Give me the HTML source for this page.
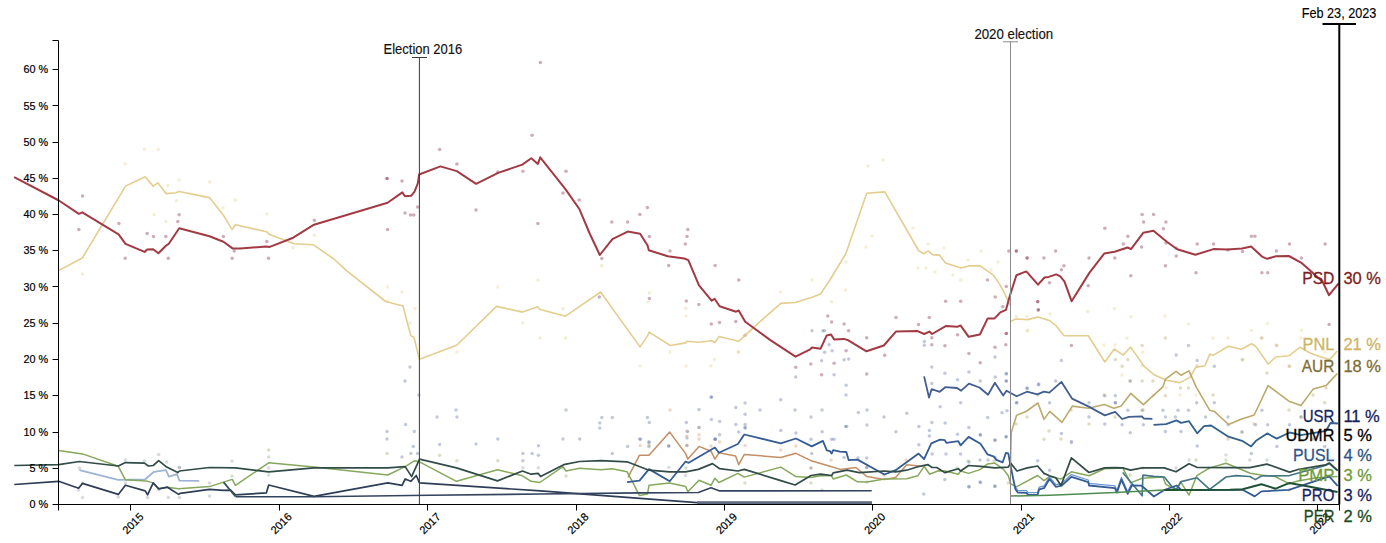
<!DOCTYPE html>
<html lang="en"><head><meta charset="utf-8"><title>Romania polls</title>
<style>html,body{margin:0;padding:0;background:#fff;overflow:hidden}body{width:1386px;height:543px}svg text{white-space:pre}</style>
</head><body>
<svg width="1386" height="543" viewBox="0 0 1386 543" style="display:block">
<rect width="1386" height="543" fill="#fff"/>
<g>
<circle cx="82.6" cy="195.9" r="1.75" fill="#8a3a58" fill-opacity="0.42"/>
<circle cx="78.8" cy="229.5" r="1.75" fill="#8a3a58" fill-opacity="0.42"/>
<circle cx="118.9" cy="223.5" r="1.75" fill="#8a3a58" fill-opacity="0.42"/>
<circle cx="125.2" cy="258.3" r="1.75" fill="#8a3a58" fill-opacity="0.42"/>
<circle cx="147.2" cy="233.5" r="1.75" fill="#8a3a58" fill-opacity="0.42"/>
<circle cx="153.5" cy="236.5" r="1.75" fill="#8a3a58" fill-opacity="0.42"/>
<circle cx="165.8" cy="236.5" r="1.75" fill="#8a3a58" fill-opacity="0.42"/>
<circle cx="168.3" cy="258.3" r="1.75" fill="#8a3a58" fill-opacity="0.42"/>
<circle cx="179.1" cy="214.7" r="1.75" fill="#8a3a58" fill-opacity="0.42"/>
<circle cx="177.8" cy="221.5" r="1.75" fill="#8a3a58" fill-opacity="0.42"/>
<circle cx="223.4" cy="236.5" r="1.75" fill="#8a3a58" fill-opacity="0.42"/>
<circle cx="232.2" cy="258.3" r="1.75" fill="#8a3a58" fill-opacity="0.42"/>
<circle cx="266.8" cy="241.5" r="1.75" fill="#8a3a58" fill-opacity="0.42"/>
<circle cx="268.5" cy="258.3" r="1.75" fill="#8a3a58" fill-opacity="0.42"/>
<circle cx="314.4" cy="220.2" r="1.75" fill="#8a3a58" fill-opacity="0.42"/>
<circle cx="387.1" cy="178.4" r="1.75" fill="#8a3a58" fill-opacity="0.42"/>
<circle cx="387.6" cy="229.5" r="1.75" fill="#8a3a58" fill-opacity="0.42"/>
<circle cx="234.2" cy="251" r="1.75" fill="#8a3a58" fill-opacity="0.42"/>
<circle cx="540.4" cy="62.5" r="1.75" fill="#8a3a58" fill-opacity="0.42"/>
<circle cx="532.1" cy="135.2" r="1.75" fill="#8a3a58" fill-opacity="0.42"/>
<circle cx="439.6" cy="149.5" r="1.75" fill="#8a3a58" fill-opacity="0.42"/>
<circle cx="456.9" cy="164" r="1.75" fill="#8a3a58" fill-opacity="0.42"/>
<circle cx="522.9" cy="171.3" r="1.75" fill="#8a3a58" fill-opacity="0.42"/>
<circle cx="566" cy="171.3" r="1.75" fill="#8a3a58" fill-opacity="0.42"/>
<circle cx="387" cy="178.6" r="1.75" fill="#8a3a58" fill-opacity="0.42"/>
<circle cx="402" cy="181.1" r="1.75" fill="#8a3a58" fill-opacity="0.42"/>
<circle cx="497.8" cy="172" r="1.75" fill="#8a3a58" fill-opacity="0.42"/>
<circle cx="405" cy="213" r="1.75" fill="#8a3a58" fill-opacity="0.42"/>
<circle cx="410.6" cy="215" r="1.75" fill="#8a3a58" fill-opacity="0.42"/>
<circle cx="413.8" cy="215" r="1.75" fill="#8a3a58" fill-opacity="0.42"/>
<circle cx="417.6" cy="207" r="1.75" fill="#8a3a58" fill-opacity="0.42"/>
<circle cx="476" cy="210" r="1.75" fill="#8a3a58" fill-opacity="0.42"/>
<circle cx="537.9" cy="223.4" r="1.75" fill="#8a3a58" fill-opacity="0.42"/>
<circle cx="563" cy="193" r="1.75" fill="#8a3a58" fill-opacity="0.42"/>
<circle cx="579.2" cy="200" r="1.75" fill="#8a3a58" fill-opacity="0.42"/>
<circle cx="601.8" cy="258.4" r="1.75" fill="#8a3a58" fill-opacity="0.42"/>
<circle cx="611.8" cy="221.9" r="1.75" fill="#8a3a58" fill-opacity="0.42"/>
<circle cx="627.6" cy="221.9" r="1.75" fill="#8a3a58" fill-opacity="0.42"/>
<circle cx="639.9" cy="214.6" r="1.75" fill="#8a3a58" fill-opacity="0.42"/>
<circle cx="647.4" cy="207.6" r="1.75" fill="#8a3a58" fill-opacity="0.42"/>
<circle cx="649.4" cy="236.4" r="1.75" fill="#8a3a58" fill-opacity="0.42"/>
<circle cx="687.8" cy="229.4" r="1.75" fill="#8a3a58" fill-opacity="0.42"/>
<circle cx="687" cy="236.4" r="1.75" fill="#8a3a58" fill-opacity="0.42"/>
<circle cx="685.3" cy="243.9" r="1.75" fill="#8a3a58" fill-opacity="0.42"/>
<circle cx="670" cy="250.9" r="1.75" fill="#8a3a58" fill-opacity="0.42"/>
<circle cx="668.7" cy="265.5" r="1.75" fill="#8a3a58" fill-opacity="0.42"/>
<circle cx="715.1" cy="265.5" r="1.75" fill="#8a3a58" fill-opacity="0.42"/>
<circle cx="599.3" cy="297" r="1.75" fill="#8a3a58" fill-opacity="0.42"/>
<circle cx="649.4" cy="298.5" r="1.75" fill="#8a3a58" fill-opacity="0.42"/>
<circle cx="686.3" cy="301" r="1.75" fill="#8a3a58" fill-opacity="0.42"/>
<circle cx="698.8" cy="304.6" r="1.75" fill="#8a3a58" fill-opacity="0.42"/>
<circle cx="738.8" cy="280" r="1.75" fill="#8a3a58" fill-opacity="0.42"/>
<circle cx="711.3" cy="323.9" r="1.75" fill="#8a3a58" fill-opacity="0.42"/>
<circle cx="719.5" cy="322.6" r="1.75" fill="#8a3a58" fill-opacity="0.42"/>
<circle cx="735.8" cy="321.4" r="1.75" fill="#8a3a58" fill-opacity="0.42"/>
<circle cx="745.1" cy="335.2" r="1.75" fill="#8a3a58" fill-opacity="0.42"/>
<circle cx="795.7" cy="367.2" r="1.75" fill="#8a3a58" fill-opacity="0.42"/>
<circle cx="810.8" cy="364" r="1.75" fill="#8a3a58" fill-opacity="0.42"/>
<circle cx="821.6" cy="374.8" r="1.75" fill="#8a3a58" fill-opacity="0.42"/>
<circle cx="834.1" cy="363.2" r="1.75" fill="#8a3a58" fill-opacity="0.42"/>
<circle cx="827.8" cy="315.9" r="1.75" fill="#8a3a58" fill-opacity="0.42"/>
<circle cx="831.6" cy="322.1" r="1.75" fill="#8a3a58" fill-opacity="0.42"/>
<circle cx="844.1" cy="323.9" r="1.75" fill="#8a3a58" fill-opacity="0.42"/>
<circle cx="848.6" cy="330.7" r="1.75" fill="#8a3a58" fill-opacity="0.42"/>
<circle cx="866.7" cy="337.7" r="1.75" fill="#8a3a58" fill-opacity="0.42"/>
<circle cx="846.1" cy="350.7" r="1.75" fill="#8a3a58" fill-opacity="0.42"/>
<circle cx="866.7" cy="374" r="1.75" fill="#8a3a58" fill-opacity="0.42"/>
<circle cx="884.7" cy="355.2" r="1.75" fill="#8a3a58" fill-opacity="0.42"/>
<circle cx="896" cy="317.6" r="1.75" fill="#8a3a58" fill-opacity="0.42"/>
<circle cx="918.5" cy="324.6" r="1.75" fill="#8a3a58" fill-opacity="0.42"/>
<circle cx="929.3" cy="317.6" r="1.75" fill="#8a3a58" fill-opacity="0.42"/>
<circle cx="931.8" cy="337.7" r="1.75" fill="#8a3a58" fill-opacity="0.42"/>
<circle cx="931.8" cy="344.7" r="1.75" fill="#8a3a58" fill-opacity="0.42"/>
<circle cx="944.9" cy="345.7" r="1.75" fill="#8a3a58" fill-opacity="0.42"/>
<circle cx="945.6" cy="301.3" r="1.75" fill="#8a3a58" fill-opacity="0.42"/>
<circle cx="960.7" cy="301.3" r="1.75" fill="#8a3a58" fill-opacity="0.42"/>
<circle cx="957.6" cy="334.7" r="1.75" fill="#8a3a58" fill-opacity="0.42"/>
<circle cx="968.9" cy="353.5" r="1.75" fill="#8a3a58" fill-opacity="0.42"/>
<circle cx="980.2" cy="362.7" r="1.75" fill="#8a3a58" fill-opacity="0.42"/>
<circle cx="987.5" cy="280" r="1.75" fill="#8a3a58" fill-opacity="0.42"/>
<circle cx="995.2" cy="297.1" r="1.75" fill="#8a3a58" fill-opacity="0.42"/>
<circle cx="1002.8" cy="306.8" r="1.75" fill="#8a3a58" fill-opacity="0.42"/>
<circle cx="1006.3" cy="333.4" r="1.75" fill="#8a3a58" fill-opacity="0.42"/>
<circle cx="1005.8" cy="344.7" r="1.75" fill="#8a3a58" fill-opacity="0.42"/>
<circle cx="995" cy="347.2" r="1.75" fill="#8a3a58" fill-opacity="0.42"/>
<circle cx="1037.8" cy="301.8" r="1.75" fill="#8a3a58" fill-opacity="0.42"/>
<circle cx="1038.3" cy="310.1" r="1.75" fill="#8a3a58" fill-opacity="0.42"/>
<circle cx="1008.8" cy="250.9" r="1.75" fill="#8a3a58" fill-opacity="0.42"/>
<circle cx="1016.3" cy="250.9" r="1.75" fill="#8a3a58" fill-opacity="0.42"/>
<circle cx="1016.3" cy="250.9" r="1.75" fill="#8a3a58" fill-opacity="0.42"/>
<circle cx="1027.1" cy="258.1" r="1.75" fill="#8a3a58" fill-opacity="0.42"/>
<circle cx="1027.1" cy="258.1" r="1.75" fill="#8a3a58" fill-opacity="0.42"/>
<circle cx="1043.9" cy="258.1" r="1.75" fill="#8a3a58" fill-opacity="0.42"/>
<circle cx="1055.6" cy="250.9" r="1.75" fill="#8a3a58" fill-opacity="0.42"/>
<circle cx="1063.9" cy="265.7" r="1.75" fill="#8a3a58" fill-opacity="0.42"/>
<circle cx="1061.4" cy="269.7" r="1.75" fill="#8a3a58" fill-opacity="0.42"/>
<circle cx="1049.4" cy="282.7" r="1.75" fill="#8a3a58" fill-opacity="0.42"/>
<circle cx="1037.6" cy="301.5" r="1.75" fill="#8a3a58" fill-opacity="0.42"/>
<circle cx="1038.3" cy="309.8" r="1.75" fill="#8a3a58" fill-opacity="0.42"/>
<circle cx="1089" cy="258.1" r="1.75" fill="#8a3a58" fill-opacity="0.42"/>
<circle cx="1088.2" cy="285.7" r="1.75" fill="#8a3a58" fill-opacity="0.42"/>
<circle cx="1104.8" cy="228.3" r="1.75" fill="#8a3a58" fill-opacity="0.42"/>
<circle cx="1114.8" cy="258.1" r="1.75" fill="#8a3a58" fill-opacity="0.42"/>
<circle cx="1123.3" cy="243.9" r="1.75" fill="#8a3a58" fill-opacity="0.42"/>
<circle cx="1127.8" cy="236.3" r="1.75" fill="#8a3a58" fill-opacity="0.42"/>
<circle cx="1130.8" cy="275.7" r="1.75" fill="#8a3a58" fill-opacity="0.42"/>
<circle cx="1141.6" cy="247.1" r="1.75" fill="#8a3a58" fill-opacity="0.42"/>
<circle cx="1142.1" cy="214.5" r="1.75" fill="#8a3a58" fill-opacity="0.42"/>
<circle cx="1143.6" cy="222.1" r="1.75" fill="#8a3a58" fill-opacity="0.42"/>
<circle cx="1153.6" cy="214.5" r="1.75" fill="#8a3a58" fill-opacity="0.42"/>
<circle cx="1165.9" cy="222.1" r="1.75" fill="#8a3a58" fill-opacity="0.42"/>
<circle cx="1163.4" cy="228.8" r="1.75" fill="#8a3a58" fill-opacity="0.42"/>
<circle cx="1165.4" cy="265.7" r="1.75" fill="#8a3a58" fill-opacity="0.42"/>
<circle cx="1176.2" cy="255.9" r="1.75" fill="#8a3a58" fill-opacity="0.42"/>
<circle cx="1197.2" cy="243.9" r="1.75" fill="#8a3a58" fill-opacity="0.42"/>
<circle cx="1196" cy="272.7" r="1.75" fill="#8a3a58" fill-opacity="0.42"/>
<circle cx="1213.5" cy="243.9" r="1.75" fill="#8a3a58" fill-opacity="0.42"/>
<circle cx="1251.4" cy="236.3" r="1.75" fill="#8a3a58" fill-opacity="0.42"/>
<circle cx="1254.9" cy="236.3" r="1.75" fill="#8a3a58" fill-opacity="0.42"/>
<circle cx="1242.6" cy="251.4" r="1.75" fill="#8a3a58" fill-opacity="0.42"/>
<circle cx="1228" cy="250" r="1.75" fill="#8a3a58" fill-opacity="0.42"/>
<circle cx="1261.9" cy="272.7" r="1.75" fill="#8a3a58" fill-opacity="0.42"/>
<circle cx="1267.7" cy="272.7" r="1.75" fill="#8a3a58" fill-opacity="0.42"/>
<circle cx="1276.4" cy="250.9" r="1.75" fill="#8a3a58" fill-opacity="0.42"/>
<circle cx="1289.5" cy="243.9" r="1.75" fill="#8a3a58" fill-opacity="0.42"/>
<circle cx="1301.5" cy="258.1" r="1.75" fill="#8a3a58" fill-opacity="0.42"/>
<circle cx="1325.1" cy="243.9" r="1.75" fill="#8a3a58" fill-opacity="0.42"/>
<circle cx="1329.1" cy="324.6" r="1.75" fill="#8a3a58" fill-opacity="0.42"/>
<circle cx="1006.3" cy="286.5" r="1.75" fill="#8a3a58" fill-opacity="0.42"/>
<circle cx="1006.3" cy="333.6" r="1.75" fill="#8a3a58" fill-opacity="0.42"/>
<circle cx="1071.4" cy="345.5" r="1.75" fill="#8a3a58" fill-opacity="0.42"/>
<circle cx="1176.2" cy="248" r="1.75" fill="#8a3a58" fill-opacity="0.42"/>
<circle cx="1166" cy="243" r="1.75" fill="#8a3a58" fill-opacity="0.42"/>
<circle cx="144.7" cy="149.3" r="1.75" fill="#e0c878" fill-opacity="0.32"/>
<circle cx="158.3" cy="149.3" r="1.75" fill="#e0c878" fill-opacity="0.32"/>
<circle cx="125.2" cy="163.8" r="1.75" fill="#e0c878" fill-opacity="0.32"/>
<circle cx="179.1" cy="180.1" r="1.75" fill="#e0c878" fill-opacity="0.32"/>
<circle cx="209.6" cy="182.1" r="1.75" fill="#e0c878" fill-opacity="0.32"/>
<circle cx="167.8" cy="185.6" r="1.75" fill="#e0c878" fill-opacity="0.32"/>
<circle cx="176.6" cy="200.7" r="1.75" fill="#e0c878" fill-opacity="0.32"/>
<circle cx="235.5" cy="200.2" r="1.75" fill="#e0c878" fill-opacity="0.32"/>
<circle cx="154" cy="214.7" r="1.75" fill="#e0c878" fill-opacity="0.32"/>
<circle cx="165.8" cy="221.5" r="1.75" fill="#e0c878" fill-opacity="0.32"/>
<circle cx="222.9" cy="207.7" r="1.75" fill="#e0c878" fill-opacity="0.32"/>
<circle cx="266.8" cy="214" r="1.75" fill="#e0c878" fill-opacity="0.32"/>
<circle cx="314.4" cy="235.3" r="1.75" fill="#e0c878" fill-opacity="0.32"/>
<circle cx="293.1" cy="247.8" r="1.75" fill="#e0c878" fill-opacity="0.32"/>
<circle cx="82.5" cy="274" r="1.75" fill="#e0c878" fill-opacity="0.32"/>
<circle cx="387.5" cy="287" r="1.75" fill="#e0c878" fill-opacity="0.32"/>
<circle cx="402" cy="292" r="1.75" fill="#e0c878" fill-opacity="0.32"/>
<circle cx="415" cy="308.6" r="1.75" fill="#e0c878" fill-opacity="0.32"/>
<circle cx="497.8" cy="287" r="1.75" fill="#e0c878" fill-opacity="0.32"/>
<circle cx="537.9" cy="280.3" r="1.75" fill="#e0c878" fill-opacity="0.32"/>
<circle cx="601.8" cy="265.5" r="1.75" fill="#e0c878" fill-opacity="0.32"/>
<circle cx="563" cy="308.6" r="1.75" fill="#e0c878" fill-opacity="0.32"/>
<circle cx="649.4" cy="292.8" r="1.75" fill="#e0c878" fill-opacity="0.32"/>
<circle cx="685.8" cy="308.3" r="1.75" fill="#e0c878" fill-opacity="0.32"/>
<circle cx="387.5" cy="301" r="1.75" fill="#e0c878" fill-opacity="0.32"/>
<circle cx="410" cy="323" r="1.75" fill="#e0c878" fill-opacity="0.32"/>
<circle cx="456.9" cy="352" r="1.75" fill="#e0c878" fill-opacity="0.32"/>
<circle cx="522.5" cy="323" r="1.75" fill="#e0c878" fill-opacity="0.32"/>
<circle cx="540" cy="338" r="1.75" fill="#e0c878" fill-opacity="0.32"/>
<circle cx="565.5" cy="338" r="1.75" fill="#e0c878" fill-opacity="0.32"/>
<circle cx="640" cy="366" r="1.75" fill="#e0c878" fill-opacity="0.32"/>
<circle cx="686" cy="366" r="1.75" fill="#e0c878" fill-opacity="0.32"/>
<circle cx="711" cy="366" r="1.75" fill="#e0c878" fill-opacity="0.32"/>
<circle cx="670" cy="352" r="1.75" fill="#e0c878" fill-opacity="0.32"/>
<circle cx="648" cy="302" r="1.75" fill="#e0c878" fill-opacity="0.32"/>
<circle cx="686" cy="316" r="1.75" fill="#e0c878" fill-opacity="0.32"/>
<circle cx="738" cy="352" r="1.75" fill="#e0c878" fill-opacity="0.32"/>
<circle cx="780.7" cy="292" r="1.75" fill="#e0c878" fill-opacity="0.32"/>
<circle cx="812" cy="280" r="1.75" fill="#e0c878" fill-opacity="0.32"/>
<circle cx="845.4" cy="290" r="1.75" fill="#e0c878" fill-opacity="0.32"/>
<circle cx="831.6" cy="301.8" r="1.75" fill="#e0c878" fill-opacity="0.32"/>
<circle cx="714.5" cy="359.5" r="1.75" fill="#e0c878" fill-opacity="0.32"/>
<circle cx="738.8" cy="352" r="1.75" fill="#e0c878" fill-opacity="0.32"/>
<circle cx="960.7" cy="280" r="1.75" fill="#e0c878" fill-opacity="0.32"/>
<circle cx="1016.3" cy="316.4" r="1.75" fill="#e0c878" fill-opacity="0.32"/>
<circle cx="1027.1" cy="316.4" r="1.75" fill="#e0c878" fill-opacity="0.32"/>
<circle cx="1027.1" cy="330.9" r="1.75" fill="#e0c878" fill-opacity="0.32"/>
<circle cx="846" cy="262" r="1.75" fill="#e0c878" fill-opacity="0.32"/>
<circle cx="866" cy="247" r="1.75" fill="#e0c878" fill-opacity="0.32"/>
<circle cx="872" cy="236" r="1.75" fill="#e0c878" fill-opacity="0.32"/>
<circle cx="883" cy="160" r="1.75" fill="#e0c878" fill-opacity="0.32"/>
<circle cx="868" cy="166" r="1.75" fill="#e0c878" fill-opacity="0.32"/>
<circle cx="913" cy="228" r="1.75" fill="#e0c878" fill-opacity="0.32"/>
<circle cx="928" cy="244" r="1.75" fill="#e0c878" fill-opacity="0.32"/>
<circle cx="944" cy="248" r="1.75" fill="#e0c878" fill-opacity="0.32"/>
<circle cx="918" cy="268" r="1.75" fill="#e0c878" fill-opacity="0.32"/>
<circle cx="926" cy="268" r="1.75" fill="#e0c878" fill-opacity="0.32"/>
<circle cx="935" cy="272" r="1.75" fill="#e0c878" fill-opacity="0.32"/>
<circle cx="953" cy="275" r="1.75" fill="#e0c878" fill-opacity="0.32"/>
<circle cx="968" cy="260" r="1.75" fill="#e0c878" fill-opacity="0.32"/>
<circle cx="981" cy="251" r="1.75" fill="#e0c878" fill-opacity="0.32"/>
<circle cx="991" cy="270" r="1.75" fill="#e0c878" fill-opacity="0.32"/>
<circle cx="998" cy="262" r="1.75" fill="#e0c878" fill-opacity="0.32"/>
<circle cx="1087.7" cy="311.5" r="1.75" fill="#e0c878" fill-opacity="0.32"/>
<circle cx="1114.5" cy="308.5" r="1.75" fill="#e0c878" fill-opacity="0.32"/>
<circle cx="1130.8" cy="316.5" r="1.75" fill="#e0c878" fill-opacity="0.32"/>
<circle cx="1050.1" cy="314" r="1.75" fill="#e0c878" fill-opacity="0.32"/>
<circle cx="1027.6" cy="330.3" r="1.75" fill="#e0c878" fill-opacity="0.32"/>
<circle cx="1267.4" cy="323.6" r="1.75" fill="#e0c878" fill-opacity="0.32"/>
<circle cx="1251.4" cy="330.3" r="1.75" fill="#e0c878" fill-opacity="0.32"/>
<circle cx="1301.5" cy="330.3" r="1.75" fill="#e0c878" fill-opacity="0.32"/>
<circle cx="1104" cy="345" r="1.75" fill="#e0c878" fill-opacity="0.32"/>
<circle cx="1115" cy="345" r="1.75" fill="#e0c878" fill-opacity="0.32"/>
<circle cx="1127" cy="338" r="1.75" fill="#e0c878" fill-opacity="0.32"/>
<circle cx="1143" cy="352" r="1.75" fill="#e0c878" fill-opacity="0.32"/>
<circle cx="1165" cy="316" r="1.75" fill="#e0c878" fill-opacity="0.32"/>
<circle cx="1188.5" cy="324" r="1.75" fill="#e0c878" fill-opacity="0.32"/>
<circle cx="1142" cy="366" r="1.75" fill="#e0c878" fill-opacity="0.32"/>
<circle cx="1122" cy="375" r="1.75" fill="#e0c878" fill-opacity="0.32"/>
<circle cx="1153" cy="395" r="1.75" fill="#e0c878" fill-opacity="0.32"/>
<circle cx="1166" cy="388" r="1.75" fill="#e0c878" fill-opacity="0.32"/>
<circle cx="1180" cy="395" r="1.75" fill="#e0c878" fill-opacity="0.32"/>
<circle cx="1196" cy="395" r="1.75" fill="#e0c878" fill-opacity="0.32"/>
<circle cx="1213" cy="338" r="1.75" fill="#e0c878" fill-opacity="0.32"/>
<circle cx="1228" cy="338" r="1.75" fill="#e0c878" fill-opacity="0.32"/>
<circle cx="1242" cy="360" r="1.75" fill="#e0c878" fill-opacity="0.32"/>
<circle cx="1261" cy="338" r="1.75" fill="#e0c878" fill-opacity="0.32"/>
<circle cx="1276" cy="345" r="1.75" fill="#e0c878" fill-opacity="0.32"/>
<circle cx="1289" cy="366" r="1.75" fill="#e0c878" fill-opacity="0.32"/>
<circle cx="1301" cy="338" r="1.75" fill="#e0c878" fill-opacity="0.32"/>
<circle cx="1325" cy="352" r="1.75" fill="#e0c878" fill-opacity="0.32"/>
<circle cx="812" cy="330.7" r="1.75" fill="#56689e" fill-opacity="0.36"/>
<circle cx="822.8" cy="330.7" r="1.75" fill="#56689e" fill-opacity="0.36"/>
<circle cx="824.6" cy="330.7" r="1.75" fill="#56689e" fill-opacity="0.36"/>
<circle cx="829.1" cy="344.7" r="1.75" fill="#56689e" fill-opacity="0.36"/>
<circle cx="824.6" cy="352.2" r="1.75" fill="#56689e" fill-opacity="0.36"/>
<circle cx="832.1" cy="350.7" r="1.75" fill="#56689e" fill-opacity="0.36"/>
<circle cx="821.6" cy="360.7" r="1.75" fill="#56689e" fill-opacity="0.36"/>
<circle cx="844.1" cy="359.7" r="1.75" fill="#56689e" fill-opacity="0.36"/>
<circle cx="848.6" cy="359" r="1.75" fill="#56689e" fill-opacity="0.36"/>
<circle cx="795.7" cy="377" r="1.75" fill="#56689e" fill-opacity="0.36"/>
<circle cx="834.1" cy="374.8" r="1.75" fill="#56689e" fill-opacity="0.36"/>
<circle cx="846.1" cy="385.3" r="1.75" fill="#56689e" fill-opacity="0.36"/>
<circle cx="711.3" cy="397.3" r="1.75" fill="#56689e" fill-opacity="0.36"/>
<circle cx="780.7" cy="399.8" r="1.75" fill="#56689e" fill-opacity="0.36"/>
<circle cx="924.3" cy="341.4" r="1.75" fill="#56689e" fill-opacity="0.36"/>
<circle cx="924.3" cy="345.2" r="1.75" fill="#56689e" fill-opacity="0.36"/>
<circle cx="931.8" cy="367" r="1.75" fill="#56689e" fill-opacity="0.36"/>
<circle cx="944.9" cy="373.3" r="1.75" fill="#56689e" fill-opacity="0.36"/>
<circle cx="957.6" cy="379.8" r="1.75" fill="#56689e" fill-opacity="0.36"/>
<circle cx="968.9" cy="372" r="1.75" fill="#56689e" fill-opacity="0.36"/>
<circle cx="980.2" cy="381" r="1.75" fill="#56689e" fill-opacity="0.36"/>
<circle cx="995" cy="357" r="1.75" fill="#56689e" fill-opacity="0.36"/>
<circle cx="995.2" cy="377" r="1.75" fill="#56689e" fill-opacity="0.36"/>
<circle cx="1006.3" cy="373.5" r="1.75" fill="#56689e" fill-opacity="0.36"/>
<circle cx="1006.3" cy="381" r="1.75" fill="#56689e" fill-opacity="0.36"/>
<circle cx="931.8" cy="383.5" r="1.75" fill="#56689e" fill-opacity="0.36"/>
<circle cx="1027.1" cy="388.5" r="1.75" fill="#56689e" fill-opacity="0.36"/>
<circle cx="1038.3" cy="384.8" r="1.75" fill="#56689e" fill-opacity="0.36"/>
<circle cx="960.7" cy="402.8" r="1.75" fill="#56689e" fill-opacity="0.36"/>
<circle cx="1016.5" cy="402.8" r="1.75" fill="#56689e" fill-opacity="0.36"/>
<circle cx="1061.4" cy="360.6" r="1.75" fill="#56689e" fill-opacity="0.36"/>
<circle cx="1006.3" cy="373.9" r="1.75" fill="#56689e" fill-opacity="0.36"/>
<circle cx="1006.3" cy="380.9" r="1.75" fill="#56689e" fill-opacity="0.36"/>
<circle cx="1027.1" cy="388.1" r="1.75" fill="#56689e" fill-opacity="0.36"/>
<circle cx="1038.8" cy="383.9" r="1.75" fill="#56689e" fill-opacity="0.36"/>
<circle cx="1055.6" cy="380.9" r="1.75" fill="#56689e" fill-opacity="0.36"/>
<circle cx="1016.8" cy="402.7" r="1.75" fill="#56689e" fill-opacity="0.36"/>
<circle cx="1007" cy="410.7" r="1.75" fill="#56689e" fill-opacity="0.36"/>
<circle cx="1002" cy="412.7" r="1.75" fill="#56689e" fill-opacity="0.36"/>
<circle cx="1006.3" cy="436.5" r="1.75" fill="#56689e" fill-opacity="0.36"/>
<circle cx="1049.6" cy="402.7" r="1.75" fill="#56689e" fill-opacity="0.36"/>
<circle cx="1089" cy="402.7" r="1.75" fill="#56689e" fill-opacity="0.36"/>
<circle cx="1089" cy="417" r="1.75" fill="#56689e" fill-opacity="0.36"/>
<circle cx="1104.8" cy="395.7" r="1.75" fill="#56689e" fill-opacity="0.36"/>
<circle cx="1115.3" cy="395.7" r="1.75" fill="#56689e" fill-opacity="0.36"/>
<circle cx="1115.3" cy="402.7" r="1.75" fill="#56689e" fill-opacity="0.36"/>
<circle cx="1115.3" cy="402.7" r="1.75" fill="#56689e" fill-opacity="0.36"/>
<circle cx="1130.3" cy="380.9" r="1.75" fill="#56689e" fill-opacity="0.36"/>
<circle cx="1127.8" cy="410.2" r="1.75" fill="#56689e" fill-opacity="0.36"/>
<circle cx="1104.8" cy="424" r="1.75" fill="#56689e" fill-opacity="0.36"/>
<circle cx="1122.1" cy="424.7" r="1.75" fill="#56689e" fill-opacity="0.36"/>
<circle cx="1142.1" cy="410.2" r="1.75" fill="#56689e" fill-opacity="0.36"/>
<circle cx="1143.4" cy="424.7" r="1.75" fill="#56689e" fill-opacity="0.36"/>
<circle cx="1130.3" cy="432.8" r="1.75" fill="#56689e" fill-opacity="0.36"/>
<circle cx="1071.4" cy="441.5" r="1.75" fill="#56689e" fill-opacity="0.36"/>
<circle cx="1061.4" cy="433.5" r="1.75" fill="#56689e" fill-opacity="0.36"/>
<circle cx="1165.4" cy="417" r="1.75" fill="#56689e" fill-opacity="0.36"/>
<circle cx="1162.9" cy="410.2" r="1.75" fill="#56689e" fill-opacity="0.36"/>
<circle cx="1178" cy="410.2" r="1.75" fill="#56689e" fill-opacity="0.36"/>
<circle cx="1188.5" cy="410.2" r="1.75" fill="#56689e" fill-opacity="0.36"/>
<circle cx="1175.4" cy="417" r="1.75" fill="#56689e" fill-opacity="0.36"/>
<circle cx="1165.4" cy="431.5" r="1.75" fill="#56689e" fill-opacity="0.36"/>
<circle cx="1181" cy="431.5" r="1.75" fill="#56689e" fill-opacity="0.36"/>
<circle cx="1196.7" cy="402.7" r="1.75" fill="#56689e" fill-opacity="0.36"/>
<circle cx="1205.5" cy="417" r="1.75" fill="#56689e" fill-opacity="0.36"/>
<circle cx="1197.2" cy="446" r="1.75" fill="#56689e" fill-opacity="0.36"/>
<circle cx="1188.5" cy="345.5" r="1.75" fill="#56689e" fill-opacity="0.36"/>
<circle cx="1176.2" cy="355.1" r="1.75" fill="#56689e" fill-opacity="0.36"/>
<circle cx="1197.2" cy="360.6" r="1.75" fill="#56689e" fill-opacity="0.36"/>
<circle cx="1214.3" cy="366.3" r="1.75" fill="#56689e" fill-opacity="0.36"/>
<circle cx="1214.3" cy="402.7" r="1.75" fill="#56689e" fill-opacity="0.36"/>
<circle cx="1228" cy="417" r="1.75" fill="#56689e" fill-opacity="0.36"/>
<circle cx="1228" cy="424.7" r="1.75" fill="#56689e" fill-opacity="0.36"/>
<circle cx="1255.6" cy="424.7" r="1.75" fill="#56689e" fill-opacity="0.36"/>
<circle cx="1267.7" cy="424.7" r="1.75" fill="#56689e" fill-opacity="0.36"/>
<circle cx="1289.5" cy="424.7" r="1.75" fill="#56689e" fill-opacity="0.36"/>
<circle cx="1251.4" cy="453.6" r="1.75" fill="#56689e" fill-opacity="0.36"/>
<circle cx="1276.9" cy="446.5" r="1.75" fill="#56689e" fill-opacity="0.36"/>
<circle cx="1324.6" cy="446.5" r="1.75" fill="#56689e" fill-opacity="0.36"/>
<circle cx="1261.9" cy="410.2" r="1.75" fill="#56689e" fill-opacity="0.36"/>
<circle cx="1242" cy="432" r="1.75" fill="#56689e" fill-opacity="0.36"/>
<circle cx="1301" cy="417" r="1.75" fill="#56689e" fill-opacity="0.36"/>
<circle cx="1313" cy="439" r="1.75" fill="#56689e" fill-opacity="0.36"/>
<circle cx="387" cy="431.4" r="1.75" fill="#56689e" fill-opacity="0.36"/>
<circle cx="387" cy="438.9" r="1.75" fill="#56689e" fill-opacity="0.36"/>
<circle cx="405.6" cy="424.6" r="1.75" fill="#56689e" fill-opacity="0.36"/>
<circle cx="414.3" cy="431.4" r="1.75" fill="#56689e" fill-opacity="0.36"/>
<circle cx="413.3" cy="446.4" r="1.75" fill="#56689e" fill-opacity="0.36"/>
<circle cx="410.8" cy="453.5" r="1.75" fill="#56689e" fill-opacity="0.36"/>
<circle cx="417.6" cy="453.5" r="1.75" fill="#56689e" fill-opacity="0.36"/>
<circle cx="402" cy="457" r="1.75" fill="#56689e" fill-opacity="0.36"/>
<circle cx="456.9" cy="417.1" r="1.75" fill="#56689e" fill-opacity="0.36"/>
<circle cx="439.6" cy="444.4" r="1.75" fill="#56689e" fill-opacity="0.36"/>
<circle cx="476" cy="443.9" r="1.75" fill="#56689e" fill-opacity="0.36"/>
<circle cx="497.8" cy="438.9" r="1.75" fill="#56689e" fill-opacity="0.36"/>
<circle cx="522.9" cy="453.5" r="1.75" fill="#56689e" fill-opacity="0.36"/>
<circle cx="522.9" cy="460.7" r="1.75" fill="#56689e" fill-opacity="0.36"/>
<circle cx="532.1" cy="453.5" r="1.75" fill="#56689e" fill-opacity="0.36"/>
<circle cx="538.4" cy="445.7" r="1.75" fill="#56689e" fill-opacity="0.36"/>
<circle cx="538.4" cy="455.2" r="1.75" fill="#56689e" fill-opacity="0.36"/>
<circle cx="566" cy="410.1" r="1.75" fill="#56689e" fill-opacity="0.36"/>
<circle cx="563" cy="438.9" r="1.75" fill="#56689e" fill-opacity="0.36"/>
<circle cx="579.7" cy="438.9" r="1.75" fill="#56689e" fill-opacity="0.36"/>
<circle cx="601.8" cy="417.6" r="1.75" fill="#56689e" fill-opacity="0.36"/>
<circle cx="599.8" cy="423.1" r="1.75" fill="#56689e" fill-opacity="0.36"/>
<circle cx="599.8" cy="428" r="1.75" fill="#56689e" fill-opacity="0.36"/>
<circle cx="612.3" cy="417.6" r="1.75" fill="#56689e" fill-opacity="0.36"/>
<circle cx="612.3" cy="453.5" r="1.75" fill="#56689e" fill-opacity="0.36"/>
<circle cx="647.4" cy="417.6" r="1.75" fill="#56689e" fill-opacity="0.36"/>
<circle cx="649.4" cy="422.6" r="1.75" fill="#56689e" fill-opacity="0.36"/>
<circle cx="639.9" cy="438.9" r="1.75" fill="#56689e" fill-opacity="0.36"/>
<circle cx="648.9" cy="442.7" r="1.75" fill="#56689e" fill-opacity="0.36"/>
<circle cx="648.9" cy="446.4" r="1.75" fill="#56689e" fill-opacity="0.36"/>
<circle cx="627.6" cy="446.4" r="1.75" fill="#56689e" fill-opacity="0.36"/>
<circle cx="668.7" cy="445.9" r="1.75" fill="#56689e" fill-opacity="0.36"/>
<circle cx="668.7" cy="445.9" r="1.75" fill="#56689e" fill-opacity="0.36"/>
<circle cx="686.3" cy="422.6" r="1.75" fill="#56689e" fill-opacity="0.36"/>
<circle cx="687.5" cy="431.4" r="1.75" fill="#56689e" fill-opacity="0.36"/>
<circle cx="687" cy="438" r="1.75" fill="#56689e" fill-opacity="0.36"/>
<circle cx="687" cy="445.5" r="1.75" fill="#56689e" fill-opacity="0.36"/>
<circle cx="699" cy="409.6" r="1.75" fill="#56689e" fill-opacity="0.36"/>
<circle cx="699" cy="427.6" r="1.75" fill="#56689e" fill-opacity="0.36"/>
<circle cx="711.3" cy="397.1" r="1.75" fill="#56689e" fill-opacity="0.36"/>
<circle cx="711.3" cy="419.6" r="1.75" fill="#56689e" fill-opacity="0.36"/>
<circle cx="719.6" cy="421.4" r="1.75" fill="#56689e" fill-opacity="0.36"/>
<circle cx="715.1" cy="438.9" r="1.75" fill="#56689e" fill-opacity="0.36"/>
<circle cx="719.6" cy="434.8" r="1.75" fill="#56689e" fill-opacity="0.36"/>
<circle cx="640.3" cy="439.3" r="1.75" fill="#56689e" fill-opacity="0.36"/>
<circle cx="649" cy="441.7" r="1.75" fill="#56689e" fill-opacity="0.36"/>
<circle cx="715.2" cy="439.3" r="1.75" fill="#56689e" fill-opacity="0.36"/>
<circle cx="715.2" cy="439.3" r="1.75" fill="#56689e" fill-opacity="0.36"/>
<circle cx="738.7" cy="432.1" r="1.75" fill="#56689e" fill-opacity="0.36"/>
<circle cx="745.1" cy="427.4" r="1.75" fill="#56689e" fill-opacity="0.36"/>
<circle cx="780.8" cy="430.6" r="1.75" fill="#56689e" fill-opacity="0.36"/>
<circle cx="795.9" cy="432.9" r="1.75" fill="#56689e" fill-opacity="0.36"/>
<circle cx="811" cy="439.3" r="1.75" fill="#56689e" fill-opacity="0.36"/>
<circle cx="811.7" cy="453.6" r="1.75" fill="#56689e" fill-opacity="0.36"/>
<circle cx="822.1" cy="431.7" r="1.75" fill="#56689e" fill-opacity="0.36"/>
<circle cx="831.6" cy="439.3" r="1.75" fill="#56689e" fill-opacity="0.36"/>
<circle cx="834" cy="439.3" r="1.75" fill="#56689e" fill-opacity="0.36"/>
<circle cx="846.7" cy="426.6" r="1.75" fill="#56689e" fill-opacity="0.36"/>
<circle cx="845.6" cy="426.6" r="1.75" fill="#56689e" fill-opacity="0.36"/>
<circle cx="867" cy="425" r="1.75" fill="#56689e" fill-opacity="0.36"/>
<circle cx="895.9" cy="431.8" r="1.75" fill="#56689e" fill-opacity="0.36"/>
<circle cx="918.9" cy="426.6" r="1.75" fill="#56689e" fill-opacity="0.36"/>
<circle cx="918.9" cy="444.8" r="1.75" fill="#56689e" fill-opacity="0.36"/>
<circle cx="929.4" cy="430.6" r="1.75" fill="#56689e" fill-opacity="0.36"/>
<circle cx="929.4" cy="436.1" r="1.75" fill="#56689e" fill-opacity="0.36"/>
<circle cx="957.5" cy="434.2" r="1.75" fill="#56689e" fill-opacity="0.36"/>
<circle cx="968.9" cy="427.4" r="1.75" fill="#56689e" fill-opacity="0.36"/>
<circle cx="980.5" cy="435.3" r="1.75" fill="#56689e" fill-opacity="0.36"/>
<circle cx="994.8" cy="440.1" r="1.75" fill="#56689e" fill-opacity="0.36"/>
<circle cx="1005.9" cy="436.9" r="1.75" fill="#56689e" fill-opacity="0.36"/>
<circle cx="932.1" cy="453.9" r="1.75" fill="#56689e" fill-opacity="0.36"/>
<circle cx="946" cy="453.9" r="1.75" fill="#56689e" fill-opacity="0.36"/>
<circle cx="960.6" cy="453.9" r="1.75" fill="#56689e" fill-opacity="0.36"/>
<circle cx="866.7" cy="458" r="1.75" fill="#56689e" fill-opacity="0.36"/>
<circle cx="858" cy="458" r="1.75" fill="#56689e" fill-opacity="0.36"/>
<circle cx="844" cy="457.5" r="1.75" fill="#56689e" fill-opacity="0.36"/>
<circle cx="866.7" cy="467.5" r="1.75" fill="#56689e" fill-opacity="0.36"/>
<circle cx="944.8" cy="479.4" r="1.75" fill="#56689e" fill-opacity="0.36"/>
<circle cx="980.5" cy="482.5" r="1.75" fill="#56689e" fill-opacity="0.36"/>
<circle cx="968.9" cy="486.9" r="1.75" fill="#56689e" fill-opacity="0.36"/>
<circle cx="994.8" cy="486.1" r="1.75" fill="#56689e" fill-opacity="0.36"/>
<circle cx="923.8" cy="494" r="1.75" fill="#56689e" fill-opacity="0.36"/>
<circle cx="1037.6" cy="460.7" r="1.75" fill="#56689e" fill-opacity="0.36"/>
<circle cx="1049.5" cy="470.2" r="1.75" fill="#56689e" fill-opacity="0.36"/>
<circle cx="410" cy="367" r="1.75" fill="#56689e" fill-opacity="0.36"/>
<circle cx="405" cy="381" r="1.75" fill="#56689e" fill-opacity="0.36"/>
<circle cx="419" cy="395" r="1.75" fill="#56689e" fill-opacity="0.36"/>
<circle cx="437" cy="417" r="1.75" fill="#56689e" fill-opacity="0.36"/>
<circle cx="456" cy="410" r="1.75" fill="#56689e" fill-opacity="0.36"/>
<circle cx="745" cy="403" r="1.75" fill="#56689e" fill-opacity="0.36"/>
<circle cx="760" cy="410" r="1.75" fill="#56689e" fill-opacity="0.36"/>
<circle cx="795" cy="410" r="1.75" fill="#56689e" fill-opacity="0.36"/>
<circle cx="811" cy="417" r="1.75" fill="#56689e" fill-opacity="0.36"/>
<circle cx="822" cy="410" r="1.75" fill="#56689e" fill-opacity="0.36"/>
<circle cx="846" cy="395" r="1.75" fill="#56689e" fill-opacity="0.36"/>
<circle cx="867" cy="410" r="1.75" fill="#56689e" fill-opacity="0.36"/>
<circle cx="884" cy="417" r="1.75" fill="#56689e" fill-opacity="0.36"/>
<circle cx="735.8" cy="407.6" r="1.75" fill="#56689e" fill-opacity="0.36"/>
<circle cx="745.1" cy="414.3" r="1.75" fill="#56689e" fill-opacity="0.36"/>
<circle cx="735.8" cy="424.6" r="1.75" fill="#56689e" fill-opacity="0.36"/>
<circle cx="745.1" cy="424.6" r="1.75" fill="#56689e" fill-opacity="0.36"/>
<circle cx="745.1" cy="428" r="1.75" fill="#56689e" fill-opacity="0.36"/>
<circle cx="858.4" cy="412.6" r="1.75" fill="#56689e" fill-opacity="0.36"/>
<circle cx="906.8" cy="413.3" r="1.75" fill="#56689e" fill-opacity="0.36"/>
<circle cx="931.8" cy="422.6" r="1.75" fill="#56689e" fill-opacity="0.36"/>
<circle cx="940.1" cy="406.8" r="1.75" fill="#56689e" fill-opacity="0.36"/>
<circle cx="945.1" cy="423.1" r="1.75" fill="#56689e" fill-opacity="0.36"/>
<circle cx="987.7" cy="417.6" r="1.75" fill="#56689e" fill-opacity="0.36"/>
<circle cx="980.2" cy="434.6" r="1.75" fill="#56689e" fill-opacity="0.36"/>
<circle cx="995.2" cy="440.2" r="1.75" fill="#56689e" fill-opacity="0.36"/>
<circle cx="969" cy="462" r="1.75" fill="#56689e" fill-opacity="0.36"/>
<circle cx="980" cy="460" r="1.75" fill="#56689e" fill-opacity="0.36"/>
<circle cx="988" cy="460" r="1.75" fill="#56689e" fill-opacity="0.36"/>
<circle cx="995" cy="457.5" r="1.75" fill="#56689e" fill-opacity="0.36"/>
<circle cx="969" cy="486.5" r="1.75" fill="#56689e" fill-opacity="0.36"/>
<circle cx="980" cy="482" r="1.75" fill="#56689e" fill-opacity="0.36"/>
<circle cx="995" cy="486.5" r="1.75" fill="#56689e" fill-opacity="0.36"/>
<circle cx="1165.4" cy="338" r="1.75" fill="#a8954e" fill-opacity="0.34"/>
<circle cx="1142.1" cy="345.5" r="1.75" fill="#a8954e" fill-opacity="0.34"/>
<circle cx="1122.1" cy="366.3" r="1.75" fill="#a8954e" fill-opacity="0.34"/>
<circle cx="1115.3" cy="359.6" r="1.75" fill="#a8954e" fill-opacity="0.34"/>
<circle cx="1127.8" cy="359.6" r="1.75" fill="#a8954e" fill-opacity="0.34"/>
<circle cx="1165.4" cy="395.7" r="1.75" fill="#a8954e" fill-opacity="0.34"/>
<circle cx="1180.5" cy="388.1" r="1.75" fill="#a8954e" fill-opacity="0.34"/>
<circle cx="1188.5" cy="388.1" r="1.75" fill="#a8954e" fill-opacity="0.34"/>
<circle cx="1142.1" cy="380.9" r="1.75" fill="#a8954e" fill-opacity="0.34"/>
<circle cx="1153" cy="380.9" r="1.75" fill="#a8954e" fill-opacity="0.34"/>
<circle cx="1197" cy="366" r="1.75" fill="#a8954e" fill-opacity="0.34"/>
<circle cx="1242.6" cy="359.6" r="1.75" fill="#a8954e" fill-opacity="0.34"/>
<circle cx="1261.9" cy="338" r="1.75" fill="#a8954e" fill-opacity="0.34"/>
<circle cx="1276.9" cy="345.5" r="1.75" fill="#a8954e" fill-opacity="0.34"/>
<circle cx="1289.5" cy="366.3" r="1.75" fill="#a8954e" fill-opacity="0.34"/>
<circle cx="1324.6" cy="402.7" r="1.75" fill="#a8954e" fill-opacity="0.34"/>
<circle cx="1016" cy="424" r="1.75" fill="#a8954e" fill-opacity="0.34"/>
<circle cx="1027" cy="417" r="1.75" fill="#a8954e" fill-opacity="0.34"/>
<circle cx="1038" cy="395" r="1.75" fill="#a8954e" fill-opacity="0.34"/>
<circle cx="1049" cy="431" r="1.75" fill="#a8954e" fill-opacity="0.34"/>
<circle cx="1061" cy="439" r="1.75" fill="#a8954e" fill-opacity="0.34"/>
<circle cx="1071" cy="410" r="1.75" fill="#a8954e" fill-opacity="0.34"/>
<circle cx="1089" cy="424" r="1.75" fill="#a8954e" fill-opacity="0.34"/>
<circle cx="1104" cy="395" r="1.75" fill="#a8954e" fill-opacity="0.34"/>
<circle cx="1115" cy="417" r="1.75" fill="#a8954e" fill-opacity="0.34"/>
<circle cx="1130" cy="381" r="1.75" fill="#a8954e" fill-opacity="0.34"/>
<circle cx="1143" cy="410" r="1.75" fill="#a8954e" fill-opacity="0.34"/>
<circle cx="1213" cy="395" r="1.75" fill="#a8954e" fill-opacity="0.34"/>
<circle cx="1228" cy="439" r="1.75" fill="#a8954e" fill-opacity="0.34"/>
<circle cx="1242" cy="432" r="1.75" fill="#a8954e" fill-opacity="0.34"/>
<circle cx="1254" cy="424" r="1.75" fill="#a8954e" fill-opacity="0.34"/>
<circle cx="1267" cy="373" r="1.75" fill="#a8954e" fill-opacity="0.34"/>
<circle cx="1289" cy="410" r="1.75" fill="#a8954e" fill-opacity="0.34"/>
<circle cx="1301" cy="417" r="1.75" fill="#a8954e" fill-opacity="0.34"/>
<circle cx="1313" cy="395" r="1.75" fill="#a8954e" fill-opacity="0.34"/>
<circle cx="1326" cy="388" r="1.75" fill="#a8954e" fill-opacity="0.34"/>
<circle cx="1008.3" cy="482.9" r="1.75" fill="#a8954e" fill-opacity="0.34"/>
<circle cx="1044" cy="439.3" r="1.75" fill="#a8954e" fill-opacity="0.34"/>
<circle cx="640.3" cy="445.6" r="1.75" fill="#c98a5a" fill-opacity="0.34"/>
<circle cx="649" cy="445.6" r="1.75" fill="#c98a5a" fill-opacity="0.34"/>
<circle cx="687.1" cy="431.3" r="1.75" fill="#c98a5a" fill-opacity="0.34"/>
<circle cx="686.8" cy="436.1" r="1.75" fill="#c98a5a" fill-opacity="0.34"/>
<circle cx="686.8" cy="445.6" r="1.75" fill="#c98a5a" fill-opacity="0.34"/>
<circle cx="699" cy="427.4" r="1.75" fill="#c98a5a" fill-opacity="0.34"/>
<circle cx="699" cy="434.8" r="1.75" fill="#c98a5a" fill-opacity="0.34"/>
<circle cx="745.1" cy="445.6" r="1.75" fill="#c98a5a" fill-opacity="0.34"/>
<circle cx="670" cy="410.1" r="1.75" fill="#c98a5a" fill-opacity="0.34"/>
<circle cx="699" cy="439" r="1.75" fill="#c98a5a" fill-opacity="0.34"/>
<circle cx="711" cy="446" r="1.75" fill="#c98a5a" fill-opacity="0.34"/>
<circle cx="719.6" cy="442" r="1.75" fill="#c98a5a" fill-opacity="0.34"/>
<circle cx="780.8" cy="450" r="1.75" fill="#c98a5a" fill-opacity="0.34"/>
<circle cx="795.9" cy="446" r="1.75" fill="#c98a5a" fill-opacity="0.34"/>
<circle cx="811" cy="468" r="1.75" fill="#c98a5a" fill-opacity="0.34"/>
<circle cx="831" cy="460" r="1.75" fill="#c98a5a" fill-opacity="0.34"/>
<circle cx="867" cy="482" r="1.75" fill="#c98a5a" fill-opacity="0.34"/>
<circle cx="884" cy="475" r="1.75" fill="#c98a5a" fill-opacity="0.34"/>
<circle cx="906" cy="460" r="1.75" fill="#c98a5a" fill-opacity="0.34"/>
<circle cx="125.4" cy="460" r="1.75" fill="#3a4d58" fill-opacity="0.2"/>
<circle cx="144.4" cy="461" r="1.75" fill="#3a4d58" fill-opacity="0.2"/>
<circle cx="158.7" cy="454.5" r="1.75" fill="#3a4d58" fill-opacity="0.2"/>
<circle cx="166.7" cy="462" r="1.75" fill="#3a4d58" fill-opacity="0.2"/>
<circle cx="179.4" cy="467.5" r="1.75" fill="#3a4d58" fill-opacity="0.2"/>
<circle cx="179.4" cy="467.5" r="1.75" fill="#3a4d58" fill-opacity="0.2"/>
<circle cx="268.7" cy="468" r="1.75" fill="#3a4d58" fill-opacity="0.2"/>
<circle cx="268.7" cy="475" r="1.75" fill="#3a4d58" fill-opacity="0.2"/>
<circle cx="232" cy="461" r="1.75" fill="#3a4d58" fill-opacity="0.2"/>
<circle cx="82.5" cy="483" r="1.75" fill="#3a4d58" fill-opacity="0.2"/>
<circle cx="79.4" cy="468" r="1.75" fill="#3a4d58" fill-opacity="0.2"/>
<circle cx="78.6" cy="490" r="1.75" fill="#3a4d58" fill-opacity="0.2"/>
<circle cx="82.5" cy="497.5" r="1.75" fill="#3a4d58" fill-opacity="0.2"/>
<circle cx="118.3" cy="497" r="1.75" fill="#3a4d58" fill-opacity="0.2"/>
<circle cx="125.4" cy="483" r="1.75" fill="#3a4d58" fill-opacity="0.2"/>
<circle cx="147.6" cy="497.5" r="1.75" fill="#3a4d58" fill-opacity="0.2"/>
<circle cx="158.7" cy="490" r="1.75" fill="#3a4d58" fill-opacity="0.2"/>
<circle cx="168.3" cy="497.5" r="1.75" fill="#3a4d58" fill-opacity="0.2"/>
<circle cx="179.4" cy="497.5" r="1.75" fill="#3a4d58" fill-opacity="0.2"/>
<circle cx="209.5" cy="483" r="1.75" fill="#3a4d58" fill-opacity="0.2"/>
<circle cx="209.5" cy="496" r="1.75" fill="#3a4d58" fill-opacity="0.2"/>
<circle cx="522.9" cy="467.7" r="1.75" fill="#3a4d58" fill-opacity="0.2"/>
<circle cx="538.4" cy="467.7" r="1.75" fill="#3a4d58" fill-opacity="0.2"/>
<circle cx="668.9" cy="467.5" r="1.75" fill="#3a4d58" fill-opacity="0.2"/>
<circle cx="685.6" cy="475.5" r="1.75" fill="#3a4d58" fill-opacity="0.2"/>
<circle cx="811" cy="468" r="1.75" fill="#3a4d58" fill-opacity="0.2"/>
<circle cx="822" cy="475" r="1.75" fill="#3a4d58" fill-opacity="0.2"/>
<circle cx="866.7" cy="467.5" r="1.75" fill="#3a4d58" fill-opacity="0.2"/>
<circle cx="944.8" cy="472" r="1.75" fill="#3a4d58" fill-opacity="0.2"/>
<circle cx="1071.4" cy="443" r="1.75" fill="#3a4d58" fill-opacity="0.2"/>
<circle cx="1189" cy="460" r="1.75" fill="#3a4d58" fill-opacity="0.2"/>
<circle cx="1176" cy="468" r="1.75" fill="#3a4d58" fill-opacity="0.2"/>
<circle cx="1249.8" cy="460" r="1.75" fill="#3a4d58" fill-opacity="0.2"/>
<circle cx="1266.9" cy="460" r="1.75" fill="#3a4d58" fill-opacity="0.2"/>
<circle cx="1226" cy="455" r="1.75" fill="#3a4d58" fill-opacity="0.2"/>
<circle cx="268.7" cy="450" r="1.75" fill="#7da052" fill-opacity="0.32"/>
<circle cx="268.7" cy="457" r="1.75" fill="#7da052" fill-opacity="0.32"/>
<circle cx="232" cy="476" r="1.75" fill="#7da052" fill-opacity="0.32"/>
<circle cx="456.9" cy="460.7" r="1.75" fill="#7da052" fill-opacity="0.32"/>
<circle cx="439.6" cy="455.2" r="1.75" fill="#7da052" fill-opacity="0.32"/>
<circle cx="497.8" cy="460.7" r="1.75" fill="#7da052" fill-opacity="0.32"/>
<circle cx="387" cy="453.5" r="1.75" fill="#7da052" fill-opacity="0.32"/>
<circle cx="563" cy="468" r="1.75" fill="#7da052" fill-opacity="0.32"/>
<circle cx="566" cy="476" r="1.75" fill="#7da052" fill-opacity="0.32"/>
<circle cx="685.6" cy="468" r="1.75" fill="#7da052" fill-opacity="0.32"/>
<circle cx="745" cy="483" r="1.75" fill="#7da052" fill-opacity="0.32"/>
<circle cx="811" cy="483" r="1.75" fill="#7da052" fill-opacity="0.32"/>
<circle cx="822" cy="490" r="1.75" fill="#7da052" fill-opacity="0.32"/>
<circle cx="957" cy="468" r="1.75" fill="#7da052" fill-opacity="0.32"/>
<circle cx="968" cy="461" r="1.75" fill="#7da052" fill-opacity="0.32"/>
<circle cx="994" cy="461" r="1.75" fill="#7da052" fill-opacity="0.32"/>
<circle cx="1130" cy="475" r="1.75" fill="#7da052" fill-opacity="0.32"/>
<circle cx="1143" cy="468" r="1.75" fill="#7da052" fill-opacity="0.32"/>
<circle cx="1196" cy="460" r="1.75" fill="#7da052" fill-opacity="0.32"/>
<circle cx="1209" cy="468" r="1.75" fill="#7da052" fill-opacity="0.32"/>
<circle cx="1289" cy="490" r="1.75" fill="#7da052" fill-opacity="0.32"/>
<circle cx="1226" cy="460" r="1.75" fill="#7da052" fill-opacity="0.32"/>
</g>
<g fill="none" stroke-linejoin="round" stroke-linecap="butt">
<polyline points="58.5,270.6 82.3,258.0 125.5,186.1 145.1,176.8 153.2,186.1 157.9,182.8 165.9,193.6 175.8,192.7 179.2,191.5 209.5,197.6 223.4,215.2 232.0,229.4 235.5,224.7 266.4,231.7 269.8,234.6 294.0,243.8 313.1,244.7 333.9,259.0 346.8,270.9 385.7,301.5 403.0,306.0 410.8,335.8 413.9,337.2 419.5,359.2 456.7,345.3 496.5,306.4 522.5,312.1 537.8,306.7 539.5,309.3 565.5,316.2 600.6,292.0 640.0,346.9 647.7,335.6 649.1,332.1 670.3,345.5 685.8,342.9 686.7,341.3 698.8,342.2 711.8,340.8 714.9,342.5 719.1,336.5 738.7,341.3 760.0,321.6 780.8,303.4 795.5,302.5 812.0,297.3 820.6,293.9 830.2,279.5 845.9,253.4 866.7,193.3 884.8,191.9 918.6,250.5 923.8,253.7 928.1,250.8 932.5,254.6 939.4,255.1 945.5,262.9 961.0,268.1 968.8,265.9 980.1,265.9 993.4,275.2 999.4,283.9 1004.6,293.4 1009.0,302.9 1010.4,306.0" stroke="#e3cd8f" stroke-width="1.6"/>
<polyline points="1010.4,321.6 1015.6,319.0 1027.7,319.6 1038.1,317.0 1049.4,320.4 1056.3,326.0 1064.1,335.8 1088.3,335.8 1104.8,362.0 1114.3,349.0 1123.0,355.1 1130.7,347.1 1143.7,365.8 1154.1,374.8 1166.2,380.2 1180.1,382.6 1190.0,377.4 1195.6,367.4 1205.0,365.7 1209.8,354.1 1213.0,355.4 1228.4,346.3 1241.2,349.2 1251.6,343.7 1256.0,346.6 1268.1,364.0 1275.9,357.0 1288.9,355.8 1300.1,347.2 1309.6,352.7 1320.9,357.0 1329.6,359.6 1337.3,351.0" stroke="#e3cd8f" stroke-width="1.6"/>
<polyline points="1010.4,466.0 1011.3,432.3 1016.6,415.2 1026.0,411.5 1037.9,403.0 1044.0,419.4 1049.8,411.4 1062.0,422.4 1072.3,406.1 1088.5,408.3 1104.4,404.5 1113.8,408.3 1121.2,406.0 1130.7,393.4 1143.4,404.6 1155.7,393.4 1162.8,386.9 1165.5,379.2 1176.0,371.3 1181.0,375.2 1189.0,370.9 1196.4,387.3 1209.8,410.3 1214.6,411.6 1228.6,424.5 1240.4,419.4 1254.2,415.0 1268.1,385.6 1288.9,401.2 1301.0,405.5 1313.1,389.1 1326.1,385.6 1337.3,373.5" stroke="#bcaa6c" stroke-width="1.6"/>
<polyline points="628.0,477.4 639.5,455.2 649.0,455.2 669.7,432.1 685.6,453.6 687.9,459.1 699.0,446.4 711.0,451.2 714.9,459.1 718.9,452.8 735.6,456.0 738.7,464.7 744.3,454.4 780.8,457.5 795.9,453.3 811.0,460.7 830.0,466.3 840.0,469.4 855.9,467.5 867.0,476.6 884.4,479.4 895.6,477.4 906.7,464.7 919.4,466.0" stroke="#c48e64" stroke-width="1.5"/>
<polyline points="79.4,470.2 118.3,479.8 145.2,479.3 154.0,471.8 165.9,470.2 169.0,476.6 177.0,474.2 179.4,480.6 199.2,480.9" stroke="#9db4d3" stroke-width="1.8"/>
<polyline points="58.7,450.4 82.5,453.9 118.3,466.3 125.4,479.8 146.0,480.9 153.2,482.9 158.7,488.8 167.5,487.2 178.6,488.8 209.5,486.6 232.2,479.4 235.4,485.3 268.7,462.8 314.0,467.1 387.8,475.0 405.2,466.6 414.8,460.7 419.5,461.8 456.5,481.3 497.5,469.8 522.4,475.8 531.1,481.3 539.8,482.5 562.9,466.6 566.0,471.0 579.5,468.2 601.0,469.8 612.1,468.7 627.1,471.8 632.7,482.1 639.5,495.6 647.5,494.0 649.0,485.3 669.7,482.9 685.6,486.6 687.9,491.7 699.0,480.2 711.0,485.3 714.9,478.2 718.9,482.5 737.9,473.4 744.3,477.1 780.8,467.1 795.9,476.6 811.0,477.4 822.1,475.5 831.6,475.8 833.2,479.0 846.3,475.0 857.5,481.8 867.0,482.1 884.4,479.0 906.7,478.7 917.8,475.8 924.1,466.3 929.7,474.2 938.4,470.7 944.8,471.0 958.3,474.2 960.6,471.0 968.6,473.4 980.5,469.4 987.6,463.9 994.8,463.1 1003.5,469.4 1008.3,475.8 1010.6,483.7 1016.2,486.9 1037.6,475.5 1044.0,480.6 1049.5,476.6 1061.0,479.0 1071.4,471.8 1089.0,475.7 1104.5,468.8 1122.7,467.9 1130.5,482.9 1142.2,478.3 1163.0,477.0 1165.6,484.2 1176.0,490.0 1180.5,481.6 1189.0,495.2 1196.8,475.7 1209.7,467.9 1226.0,463.3 1250.3,473.2 1261.4,475.0 1275.0,476.5 1289.0,483.7 1297.8,481.0 1315.0,478.0 1337.6,476.5" stroke="#86a85c" stroke-width="1.5"/>
<polyline points="1122.7,472.5 1142.2,495.8 1142.9,475.1 1153.9,476.4 1164.3,477.0 1172.1,486.8 1176.6,489.4 1181.2,481.6 1196.8,477.7 1209.7,489.4 1226.0,477.0 1236.0,475.6 1249.8,476.5 1255.3,479.6 1261.4,476.0 1289.5,475.6 1325.4,465.5 1329.3,463.5 1337.6,471.0" stroke="#437785" stroke-width="1.6"/>
<polyline points="14.3,484.5 58.7,481.3 78.6,488.2 82.5,483.4 118.3,494.4 125.4,485.3 145.2,490.9 147.6,494.8 153.2,482.9 158.7,488.8 167.5,487.2 178.6,494.4 180.2,493.3 209.5,489.3 223.5,490.4 230.6,490.1 235.4,494.8 266.3,492.9 268.7,485.0 314.0,496.4 387.8,482.9 402.1,485.3 405.2,479.0 410.8,481.3 416.3,475.5 419.5,482.9 540.6,490.9 640.0,498.3 697.0,502.6" stroke="#2f3e56" stroke-width="1.7"/>
<polyline points="235.4,496.7 314.0,496.7 430.0,495.2 540.6,494.0 640.0,492.9 698.3,492.5 711.0,487.7 719.7,490.9 871.7,490.8" stroke="#34435e" stroke-width="1.6"/>
<polyline points="223.5,482.1 235.4,496.4" stroke="#36515c" stroke-width="1.7"/>
<polyline points="1015.4,487.1 1017.8,490.3 1026.5,490.7 1028.1,492.6 1037.6,492.6 1039.2,487.1 1044.0,486.0 1049.5,476.8 1055.8,484.6 1061.7,483.5 1071.4,474.6 1088.3,480.0 1089.0,483.3 1114.9,485.9 1116.9,490.4 1121.4,477.4 1127.7,491.7 1131.8,483.3" stroke="#6a98d6" stroke-width="1.3"/>
<polyline points="627.1,482.1 639.5,480.6 649.0,469.1 669.7,481.3 685.6,461.5 688.7,462.8 714.9,447.5 718.9,452.8 737.9,444.0 744.3,434.5 780.8,443.3 795.9,438.5 811.7,446.4 822.9,440.9 826.8,450.4 830.0,451.2 831.6,453.6 833.2,450.1 840.0,451.7 846.3,452.0 848.7,460.2 857.5,459.6 884.4,474.5 895.6,470.2 918.6,453.6 924.1,459.1 931.3,443.3 940.0,439.6 944.8,440.1 946.3,442.8 958.3,441.2 960.6,445.3 968.6,436.9 980.5,443.7 987.6,454.4 994.0,456.7 996.3,459.9 1002.7,462.3 1005.9,452.8 1008.3,453.3 1010.6,466.3 1015.4,489.3 1017.8,492.5 1026.5,492.9 1028.1,494.8 1037.6,494.8 1039.2,489.3 1044.0,488.2 1049.5,479.0 1055.8,486.8 1061.7,485.7 1071.4,476.8 1088.3,482.2 1089.0,485.5 1114.9,488.1 1116.9,492.6 1121.4,479.6 1127.7,493.9 1131.8,485.5 1141.6,485.7 1153.9,496.5 1164.3,490.0 1176.6,485.5 1181.2,490.0 1242.6,489.8 1254.7,496.4 1261.4,491.4 1289.0,489.8 1325.4,477.6 1329.3,476.5 1337.6,485.9" stroke="#365c94" stroke-width="1.8"/>
<polyline points="1010.6,496.0 1050.0,495.2 1114.9,492.6 1164.3,490.0" stroke="#4f8c50" stroke-width="1.5"/>
<polyline points="1164.3,490.0 1230.0,489.7 1242.6,489.2 1261.4,484.3 1275.7,488.7 1289.0,483.1 1303.3,485.4 1337.6,492.0" stroke="#1f5235" stroke-width="2"/>
<polyline points="924.1,376.4 929.0,397.5 931.7,389.1 939.7,391.8 945.2,387.2 957.1,388.0 961.1,390.7 969.0,383.6 979.4,387.5 988.1,394.7 994.9,382.8 1003.2,395.5 1006.5,390.7 1016.6,396.3 1027.0,391.7 1037.3,394.3 1043.9,391.7 1049.3,392.6 1061.5,381.9 1072.0,398.6 1088.3,406.4 1104.8,415.4 1115.2,411.8 1122.1,419.0 1129.0,416.8 1142.0,416.4 1143.7,418.5 1152.4,418.8" stroke="#425e90" stroke-width="1.8"/>
<polyline points="1153.5,424.9 1166.0,424.1 1176.4,420.4 1181.2,422.9 1189.0,421.2 1197.2,433.3 1204.1,426.1 1211.1,425.5 1228.4,436.7 1242.1,440.8 1251.1,446.4 1256.0,440.8 1267.2,433.4 1276.7,438.6 1289.7,432.5 1301.0,435.1 1326.1,430.8 1330.4,423.0 1338.2,423.5" stroke="#33608c" stroke-width="1.8"/>
<polyline points="14.3,465.5 58.7,464.7 79.4,461.5 118.3,466.0 125.4,462.6 144.4,463.1 148.4,466.0 153.2,465.5 158.7,460.7 166.7,467.1 177.8,472.6 179.4,471.0 209.5,467.5 235.4,467.9 268.7,471.8 314.0,467.9 387.8,467.9 405.2,466.6 411.6,476.6 415.6,467.9 419.5,459.1 456.5,467.9 497.5,480.9 522.4,471.0 531.1,474.2 538.3,473.4 540.6,476.6 563.7,464.7 579.5,461.5 601.0,460.7 627.1,461.8 649.0,470.2 669.7,471.8 685.6,471.8 698.3,469.4 712.5,463.6 719.7,468.7 737.9,471.0 744.3,469.4 780.8,480.6 795.1,485.0 811.0,475.5 820.5,474.2 831.6,475.5 833.2,472.9 847.1,470.2 859.0,472.6 884.4,471.0 895.6,471.8 906.7,470.2 919.4,466.3 928.1,464.7 932.1,467.5 936.8,467.5 944.8,472.6 958.3,468.7 960.6,471.0 968.6,465.5 980.5,466.3 994.8,467.9 1008.3,467.1 1010.6,463.1 1017.0,471.0 1027.3,467.9 1037.6,466.0 1044.0,473.4 1049.5,475.8 1055.8,477.7 1061.0,485.5 1071.4,457.9 1089.0,472.5 1104.5,467.9 1114.9,467.7 1122.7,467.9 1130.5,470.1 1142.2,467.9 1164.3,467.9 1176.0,471.8 1189.0,463.8 1196.8,467.3 1226.0,467.7 1249.8,467.7 1266.9,464.1 1289.5,472.1 1298.9,469.3 1325.4,464.9 1329.3,463.0 1337.6,470.4" stroke="#324c48" stroke-width="1.7"/>
<polyline points="14.2,177.1 58.9,200.5 78.8,213.8 82.3,212.3 118.6,234.3 125.5,243.8 144.6,251.9 147.2,249.5 153.2,249.3 158.4,253.3 166.2,245.5 168.8,243.8 179.2,228.2 209.5,236.3 223.4,241.7 232.9,248.6 240.0,248.6 266.4,246.4 269.8,246.9 293.2,237.7 314.0,224.7 387.6,202.7 402.3,192.4 404.9,196.2 411.0,195.8 414.4,191.8 417.9,183.2 419.1,174.5 440.4,166.4 456.8,171.1 476.1,183.8 498.1,172.9 522.3,164.6 531.3,158.2 537.9,163.9 540.2,157.3 565.6,189.4 579.5,209.3 589.9,234.0 599.8,255.0 612.4,239.1 627.7,231.6 640.1,233.7 647.6,245.5 648.8,250.3 667.8,256.2 684.3,258.5 688.3,260.2 699.0,285.3 711.6,300.6 714.6,298.8 719.6,306.2 736.1,311.7 738.7,310.5 745.2,321.8 770.0,339.9 795.5,356.7 810.2,349.3 812.0,347.5 820.6,348.7 826.7,335.4 831.0,334.5 834.1,339.4 844.0,338.9 848.3,340.3 866.5,351.3 883.8,345.5 895.9,331.6 917.6,331.1 924.2,334.0 929.4,331.6 932.0,334.0 946.2,325.9 957.4,326.8 960.5,325.4 968.7,336.8 979.9,334.5 987.7,318.4 994.6,318.4 1000.3,312.4 1006.0,309.8 1009.8,296.0 1016.4,275.2 1026.3,271.4 1038.0,284.7 1044.5,277.5 1048.8,276.9 1056.1,274.4 1060.0,276.1 1064.4,281.3 1071.6,301.2 1089.5,272.6 1104.2,253.6 1114.6,251.8 1127.6,247.5 1131.0,249.2 1143.2,232.8 1153.5,230.7 1166.8,241.8 1177.2,249.3 1195.4,254.8 1213.5,249.1 1227.4,249.6 1242.1,248.4 1251.1,246.5 1262.0,256.6 1267.2,258.8 1275.9,256.2 1288.9,256.0 1301.0,262.6 1309.6,270.1 1322.6,281.7 1329.0,295.2 1338.6,283.4" stroke="#a23a44" stroke-width="2"/>
</g>
<rect x="697" y="501.2" width="175" height="3" fill="#5f6b80"/>
<g stroke="#3a3a3a" stroke-width="1" fill="none"><path d="M419.4,57.5V504 M412,57.5H427"/></g>
<g stroke="#8a8a8a" stroke-width="1" fill="none"><path d="M1010.5,41.8V504 M1003,41.8H1018"/></g>
<text x="383.5" y="53.85" style="font-family:'Liberation Sans',Arial,sans-serif;font-size:14.5px" fill="#111" stroke="#111" stroke-width="0.15" textLength="78.8" lengthAdjust="spacingAndGlyphs">Election 2016</text>
<text x="974.4" y="38.65" style="font-family:'Liberation Sans',Arial,sans-serif;font-size:14.5px" fill="#111" stroke="#111" stroke-width="0.15" textLength="78.8" lengthAdjust="spacingAndGlyphs">2020 election</text>
<g stroke="#000" stroke-width="1" fill="none">
<path d="M52.5,40.5H58.5V504.5"/>
<path d="M58.5,510.5V504.5H1339.5V510.5"/>
<path d="M52.5,504.5H58.5"/>
<path d="M52.5,468.5H58.5"/>
<path d="M52.5,432.5H58.5"/>
<path d="M52.5,395.5H58.5"/>
<path d="M52.5,359.5H58.5"/>
<path d="M52.5,323.5H58.5"/>
<path d="M52.5,286.5H58.5"/>
<path d="M52.5,250.5H58.5"/>
<path d="M52.5,214.5H58.5"/>
<path d="M52.5,178.5H58.5"/>
<path d="M52.5,142.5H58.5"/>
<path d="M52.5,105.5H58.5"/>
<path d="M52.5,69.5H58.5"/>
<path d="M130.5,504.5V510.5"/>
<path d="M279.5,504.5V510.5"/>
<path d="M427.5,504.5V510.5"/>
<path d="M576.5,504.5V510.5"/>
<path d="M724.5,504.5V510.5"/>
<path d="M872.5,504.5V510.5"/>
<path d="M1021.5,504.5V510.5"/>
<path d="M1169.5,504.5V510.5"/>
<path d="M1317.5,504.5V510.5"/>
</g>
<g style="font-family:'Liberation Sans',Arial,sans-serif;font-size:10.8px" fill="#000" text-anchor="end" stroke="#000" stroke-width="0.2">
<text x="48.2" y="508.2">0 %</text>
<text x="48.2" y="471.9">5 %</text>
<text x="48.2" y="435.7">10 %</text>
<text x="48.2" y="399.4">15 %</text>
<text x="48.2" y="363.2">20 %</text>
<text x="48.2" y="326.9">25 %</text>
<text x="48.2" y="290.7">30 %</text>
<text x="48.2" y="254.4">35 %</text>
<text x="48.2" y="218.2">40 %</text>
<text x="48.2" y="181.9">45 %</text>
<text x="48.2" y="145.7">50 %</text>
<text x="48.2" y="109.5">55 %</text>
<text x="48.2" y="73.2">60 %</text>
</g>
<g style="font-family:'Liberation Sans',Arial,sans-serif;font-size:11px" fill="#000" text-anchor="end" stroke="#000" stroke-width="0.2">
<text transform="translate(138.7,512) rotate(-45)" x="0" y="0" dy="0.71em">2015</text>
<text transform="translate(287.0,512) rotate(-45)" x="0" y="0" dy="0.71em">2016</text>
<text transform="translate(435.7,512) rotate(-45)" x="0" y="0" dy="0.71em">2017</text>
<text transform="translate(583.9,512) rotate(-45)" x="0" y="0" dy="0.71em">2018</text>
<text transform="translate(732.2,512) rotate(-45)" x="0" y="0" dy="0.71em">2019</text>
<text transform="translate(880.5,512) rotate(-45)" x="0" y="0" dy="0.71em">2020</text>
<text transform="translate(1029.2,512) rotate(-45)" x="0" y="0" dy="0.71em">2021</text>
<text transform="translate(1177.4,512) rotate(-45)" x="0" y="0" dy="0.71em">2022</text>
<text transform="translate(1325.7,512) rotate(-45)" x="0" y="0" dy="0.71em">2023</text>
</g>
<g stroke="#000" stroke-width="2" fill="none"><path d="M1339.3,24V504.5 M1322.5,24H1356"/></g>
<text x="1301.7" y="17.9" style="font-family:'Liberation Sans',Arial,sans-serif;font-size:14.5px" fill="#000" stroke="#000" stroke-width="0.15" textLength="74.7" lengthAdjust="spacingAndGlyphs">Feb 23, 2023</text>
<g style="font-family:'Liberation Sans',Arial,sans-serif;font-size:16.5px">
<text x="1302.2" y="284.0" fill="#7e1d22" stroke="#7e1d22" stroke-width="0.3" textLength="32.2" lengthAdjust="spacingAndGlyphs">PSD</text>
<text x="1343.4" y="284.0" fill="#7e1d22" stroke="#7e1d22" stroke-width="0.3">30 %</text>
<text x="1302.6" y="349.9" fill="#cdb564" stroke="#cdb564" stroke-width="0.3" textLength="31.8" lengthAdjust="spacingAndGlyphs">PNL</text>
<text x="1343.4" y="349.9" fill="#cdb564" stroke="#cdb564" stroke-width="0.3">21 %</text>
<text x="1301.8" y="371.8" fill="#7f6d33" stroke="#7f6d33" stroke-width="0.3" textLength="32.6" lengthAdjust="spacingAndGlyphs">AUR</text>
<text x="1343.4" y="371.8" fill="#7f6d33" stroke="#7f6d33" stroke-width="0.3">18 %</text>
<text x="1302.8" y="421.6" fill="#13245e" stroke="#13245e" stroke-width="0.3" textLength="31.6" lengthAdjust="spacingAndGlyphs">USR</text>
<text x="1343.4" y="421.6" fill="#13245e" stroke="#13245e" stroke-width="0.3">11 %</text>
<text x="1285.6" y="441.4" fill="#000000" stroke="#000000" stroke-width="0.3" textLength="48.8" lengthAdjust="spacingAndGlyphs">UDMR</text>
<text x="1343.4" y="441.4" fill="#000000" stroke="#000000" stroke-width="0.3">5 %</text>
<text x="1293.0" y="461.2" fill="#2d5586" stroke="#2d5586" stroke-width="0.3" textLength="41.4" lengthAdjust="spacingAndGlyphs">PUSL</text>
<text x="1343.4" y="461.2" fill="#2d5586" stroke="#2d5586" stroke-width="0.3">4 %</text>
<text x="1298.2" y="481.4" fill="#6f9b3b" stroke="#6f9b3b" stroke-width="0.3" textLength="36.2" lengthAdjust="spacingAndGlyphs">PMP</text>
<text x="1343.4" y="481.4" fill="#6f9b3b" stroke="#6f9b3b" stroke-width="0.3">3 %</text>
<text x="1301.8" y="501.2" fill="#161f63" stroke="#161f63" stroke-width="0.3" textLength="32.6" lengthAdjust="spacingAndGlyphs">PRO</text>
<text x="1343.4" y="501.2" fill="#161f63" stroke="#161f63" stroke-width="0.3">3 %</text>
<text x="1303.8" y="521.6" fill="#1c4a1f" stroke="#1c4a1f" stroke-width="0.3" textLength="30.6" lengthAdjust="spacingAndGlyphs">PER</text>
<text x="1343.4" y="521.6" fill="#1c4a1f" stroke="#1c4a1f" stroke-width="0.3">2 %</text>
</g>
</svg>
</body></html>
